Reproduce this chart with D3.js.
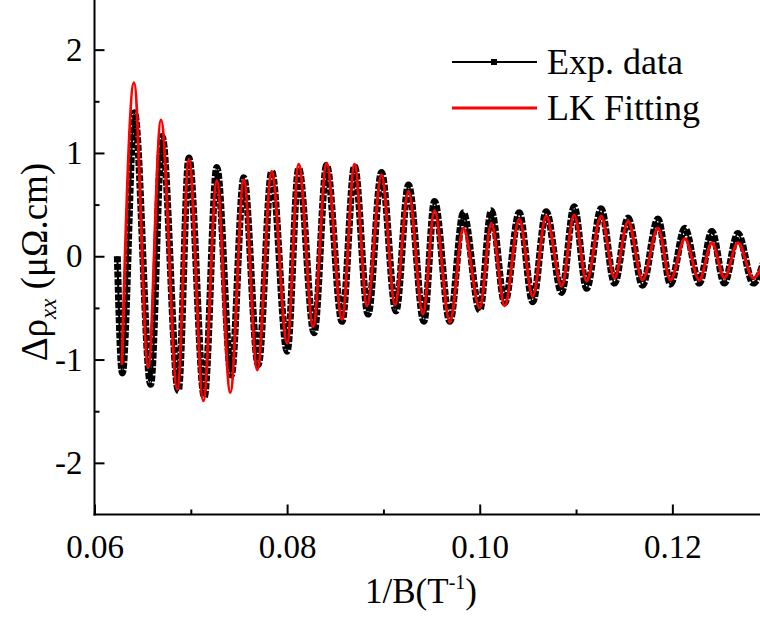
<!DOCTYPE html>
<html>
<head>
<meta charset="utf-8">
<script src="https://cdn.jsdelivr.net/npm/d3@7"></script>
<style>
body { margin: 0; background: #fff; }
text { font-family: "Liberation Serif", "Times New Roman", serif; fill: #000; }
</style>
</head>
<body>
<svg id="chart" width="760" height="617"></svg>
<script>
/*Data (extrema)*/
var expX = [0.06237, 0.06289, 0.06415, 0.06583, 0.06702, 0.0687, 0.0698, 0.0714, 0.0727, 0.0742,
            0.0755, 0.0770, 0.0784, 0.0800, 0.0812, 0.0828, 0.0841, 0.0857, 0.0870, 0.0884,
            0.0898, 0.0913, 0.0926, 0.0942, 0.0953, 0.0969, 0.0983, 0.1000, 0.1012, 0.1026,
            0.1041, 0.1055, 0.1069, 0.1085, 0.1098, 0.1111, 0.1126, 0.1140, 0.1154, 0.1169,
            0.1185, 0.1198, 0.1213, 0.1228, 0.1241, 0.1254, 0.1268, 0.1284, 0.1295];
var expY = [0, -1.13, 1.39, -1.24, 1.16, -1.30, 0.95, -1.36, 0.86, -1.15,
            0.76, -1.05, 0.82, -0.92, 0.85, -0.74, 0.88, -0.63, 0.87, -0.56,
            0.81, -0.53, 0.69, -0.63, 0.53, -0.63, 0.42, -0.52, 0.44, -0.45,
            0.42, -0.44, 0.43, -0.35, 0.48, -0.31, 0.46, -0.26, 0.37, -0.28,
            0.36, -0.27, 0.27, -0.26, 0.24, -0.26, 0.22, -0.26, -0.05];

var fitX = [0.06285, 0.0641, 0.06558, 0.0669, 0.0686, 0.0698, 0.0713, 0.0727, 0.0741, 0.0755,
            0.0769, 0.0784, 0.0800, 0.0812, 0.0827, 0.0841, 0.0857, 0.0870, 0.0883, 0.0898,
            0.0912, 0.0926, 0.0941, 0.0953, 0.0969, 0.0983, 0.1000, 0.1012, 0.1026, 0.1041,
            0.1055, 0.1069, 0.1085, 0.1098, 0.1111, 0.1126, 0.1140, 0.1154, 0.1169, 0.1185,
            0.1198, 0.1213, 0.1228, 0.1241, 0.1254, 0.1268, 0.1284, 0.1295];
var fitY = [-1.05, 1.68, -1.08, 1.32, -1.29, 0.94, -1.40, 0.73, -1.32, 0.74,
            -1.10, 0.82, -0.84, 0.89, -0.68, 0.90, -0.61, 0.89, -0.48, 0.79,
            -0.47, 0.63, -0.56, 0.44, -0.64, 0.27, -0.50, 0.32, -0.48, 0.36,
            -0.39, 0.39, -0.29, 0.40, -0.24, 0.39, -0.21, 0.34, -0.23, 0.27,
            -0.23, 0.17, -0.23, 0.13, -0.21, 0.13, -0.21, -0.05];

var xTicks = [0.06, 0.08, 0.10, 0.12];
var xMinor = [0.07, 0.09, 0.11, 0.13];
var yTicks = [-2, -1, 0, 1, 2];
var yMinor = [-1.5, -0.5, 0.5, 1.5];
var seriesNames = ["Exp. data", "LK Fitting"];

/*Setup*/
var svg = d3.select("#chart");
var plotLeft = 94.5, plotBottom = 514.5, plotRight = 760, plotTop = -2;
var serif = '"Liberation Serif", "Times New Roman", serif';

var x = d3.scaleLinear().domain([0.06, 0.1291]).range([plotLeft, plotRight]);
var y = d3.scaleLinear().domain([-2.5, 2.5]).range([plotBottom, plotTop]);

svg.append("clipPath").attr("id", "plot-clip")
    .append("rect").attr("x", plotLeft).attr("y", plotTop)
    .attr("width", plotRight - plotLeft).attr("height", plotBottom - plotTop);

/*Axes*/
function styleAxis(g) {
    g.attr("font-family", null).attr("font-size", null);
    g.select(".domain").remove();
    g.selectAll(".tick line").attr("stroke", "#000").attr("stroke-width", 2);
    g.selectAll(".tick text").style("font-family", serif).style("font-size", "33px");
}

svg.append("g").attr("transform", "translate(0," + plotBottom + ")")
    .call(d3.axisBottom(x).tickValues(xMinor).tickSize(-5).tickFormat(""))
    .call(styleAxis);
svg.append("g").attr("transform", "translate(0," + plotBottom + ")")
    .call(d3.axisBottom(x).tickValues(xTicks).tickSize(-10).tickPadding(20).tickFormat(d3.format(".2f")))
    .call(styleAxis);

svg.append("g").attr("transform", "translate(" + plotLeft + ",0)")
    .call(d3.axisLeft(y).tickValues(yMinor).tickSize(-5).tickFormat(""))
    .call(styleAxis);
svg.append("g").attr("transform", "translate(" + plotLeft + ",0)")
    .call(d3.axisLeft(y).tickValues(yTicks).tickSize(-10).tickPadding(12)
        .tickFormat(function (d) { return String(d); }))
    .call(styleAxis);

// frame lines
svg.append("line").attr("x1", plotLeft).attr("x2", plotLeft).attr("y1", plotTop).attr("y2", plotBottom + 1)
    .attr("stroke", "#000").attr("stroke-width", 2);
svg.append("line").attr("x1", plotLeft - 1).attr("x2", plotRight).attr("y1", plotBottom).attr("y2", plotBottom)
    .attr("stroke", "#000").attr("stroke-width", 2);

/*Series*/
var expData = expX.map(function (d, i) { return [d, expY[i]]; });
var fitData = fitX.map(function (d, i) { return [d, fitY[i]]; });

var line = d3.line()
    .x(function (d) { return x(d[0]); })
    .y(function (d) { return y(d[1]); })
    .curve(d3.curveMonotoneX);

var plot = svg.append("g").attr("clip-path", "url(#plot-clip)");

// exp. data: connecting line + square markers look
plot.append("path").datum(expData).attr("d", line)
    .attr("fill", "none").attr("stroke", "#000").attr("stroke-width", 2);
plot.append("path").datum(expData).attr("d", line)
    .attr("fill", "none").attr("stroke", "#000").attr("stroke-width", 7)
    .attr("stroke-dasharray", "6,1.6");

// LK fitting
plot.append("path").datum(fitData).attr("d", line)
    .attr("fill", "none").attr("stroke", "#f00").attr("stroke-width", 3);

/*Legend*/
var legend = svg.append("g");
var legendY = [62, 108];
legend.append("line").attr("x1", 452).attr("x2", 537).attr("y1", legendY[0]).attr("y2", legendY[0])
    .attr("stroke", "#000").attr("stroke-width", 2);
legend.append("rect").attr("x", 491).attr("y", legendY[0] - 3).attr("width", 6).attr("height", 6).attr("fill", "#000");
legend.append("line").attr("x1", 452).attr("x2", 537).attr("y1", legendY[1]).attr("y2", legendY[1])
    .attr("stroke", "#f00").attr("stroke-width", 3);
legend.selectAll("text.leg").data(seriesNames).enter().append("text")
    .attr("class", "leg")
    .attr("x", 547)
    .attr("y", function (d, i) { return legendY[i] + 12; })
    .style("font-size", "36px")
    .text(function (d) { return d; });

/*Axis titles*/
var xt = svg.append("text").attr("x", 421).attr("y", 603).attr("text-anchor", "middle").style("font-size", "35px");
xt.append("tspan").text("1/B(T");
xt.append("tspan").attr("dy", -14).style("font-size", "20px").text("-1");
xt.append("tspan").attr("dy", 14).text(")");

var yt = svg.append("text").attr("transform", "translate(47,262) rotate(-90)")
    .attr("text-anchor", "middle").style("font-size", "37px");
yt.append("tspan").text("\u0394\u03c1");
yt.append("tspan").attr("dy", 9).style("font-size", "23px").style("font-style", "italic").text("xx");
yt.append("tspan").attr("dy", -9).text(" (\u03bc\u03a9.cm)");
</script>
</body>
</html>
